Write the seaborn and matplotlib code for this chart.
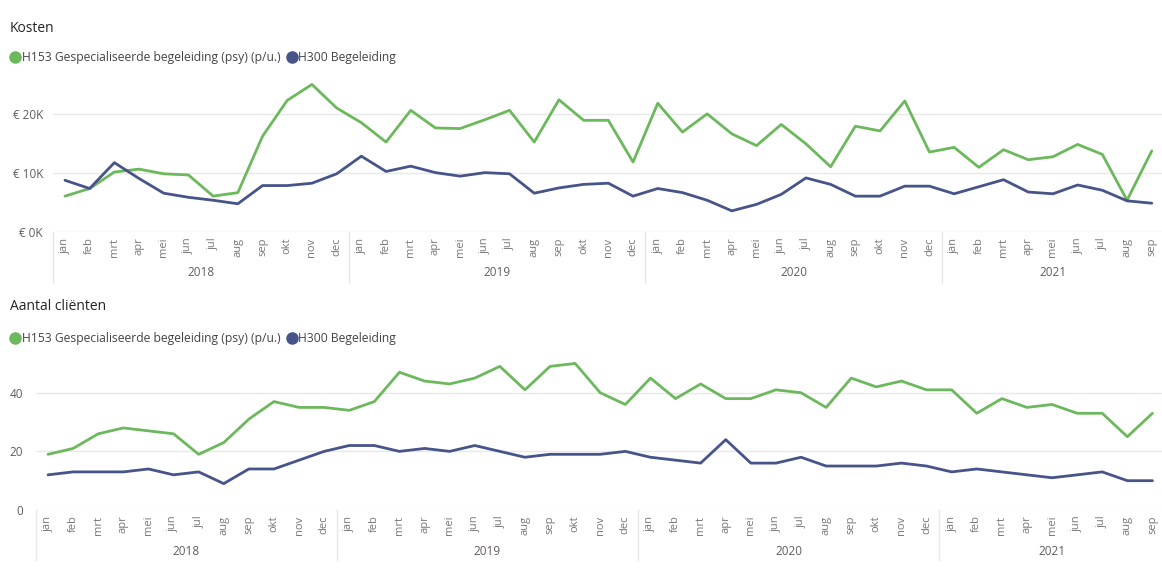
import numpy as np
import pandas as pd
import matplotlib
matplotlib.use("Agg")
import matplotlib.pyplot as plt
import matplotlib.transforms as mtransforms
from matplotlib.lines import Line2D
import seaborn as sns

# Data
month_names = ["jan", "feb", "mrt", "apr", "mei", "jun", "jul", "aug", "sep", "okt", "nov", "dec"]
years = ["2018", "2019", "2020", "2021"]
months_per_year = [12, 12, 12, 9]

series_names = ["H153 Gespecialiseerde begeleiding (psy) (p/u.)", "H300 Begeleiding"]

kosten_h153 = [6100, 7400, 10200, 10700, 9900, 9700, 6100, 6700, 16300, 22400, 25100, 21100,
               18600, 15300, 20700, 17700, 17600, 19100, 20700, 15300, 22500, 19000, 19000, 11900,
               21900, 17000, 20100, 16700, 14700, 18300, 15000, 11100, 18000, 17200, 22300, 13600,
               14400, 11000, 14000, 12300, 12800, 14900, 13200, 5400, 13800]
kosten_h300 = [8800, 7400, 11800, 9100, 6600, 5900, 5400, 4800, 7900, 7900, 8300, 9900,
               12900, 10300, 11200, 10100, 9500, 10100, 9900, 6600, 7500, 8100, 8300, 6100,
               7400, 6700, 5400, 3600, 4700, 6400, 9200, 8100, 6100, 6100, 7800, 7800,
               6500, 7700, 8900, 6800, 6500, 8000, 7100, 5300, 4900]

clienten_h153 = [19, 21, 26, 28, 27, 26, 19, 23, 31, 37, 35, 35,
                 34, 37, 47, 44, 43, 45, 49, 41, 49, 50, 40, 36,
                 45, 38, 43, 38, 38, 41, 40, 35, 45, 42, 44, 41,
                 41, 33, 38, 35, 36, 33, 33, 25, 33]
clienten_h300 = [12, 13, 13, 13, 14, 12, 13, 9, 14, 14, 17, 20,
                 22, 22, 20, 21, 20, 22, 20, 18, 19, 19, 19, 20,
                 18, 17, 16, 24, 16, 16, 18, 15, 15, 15, 16, 15,
                 13, 14, 13, 12, 11, 12, 13, 10, 10]

colors = ["#6CB85C", "#46548A"]
palette = dict(zip(series_names, colors))

month_labels = []
for n in months_per_year:
    month_labels += month_names[:n]
idx = np.arange(len(month_labels))

sns.set_theme(style="white")
plt.rcParams["font.family"] = ["Open Sans", "DejaVu Sans"]

W, H = 1162, 576
fig = plt.figure(figsize=(W / 100, H / 100), dpi=100)

grid_col = "#E8E8E8"
text_col = "#605E5C"
tick_col = "#777777"


def px_axes(left, top, width, bottom):
    return fig.add_axes([left / W, 1 - bottom / H, width / W, (bottom - top) / H])


def draw_panel(ax, v1, v2, ylim, yticks, fmt, title, title_y, legend_y, axis_bottom,
               sep_bottom, year_y, ypad):
    df = pd.DataFrame({
        "idx": np.concatenate([idx, idx]),
        "value": list(v1) + list(v2),
        "serie": [series_names[0]] * len(idx) + [series_names[1]] * len(idx),
    })
    sns.lineplot(data=df, x="idx", y="value", hue="serie", palette=palette,
                 linewidth=2, legend=False, ax=ax)
    ax.set_xlim(-0.5, 44.5)
    ax.set_ylim(*ylim)
    ax.set_yticks(yticks)
    ax.set_yticklabels([fmt(v) for v in yticks])
    ax.set_xticks(idx)
    ax.set_xticklabels(month_labels, rotation=90, va="top", ha="center")
    ax.tick_params(axis="x", length=0, pad=4, labelsize=8, labelcolor=tick_col)
    ax.tick_params(axis="y", length=0, pad=ypad, labelsize=8.5, labelcolor=text_col)
    ax.set_xlabel("")
    ax.set_ylabel("")
    for s in ax.spines.values():
        s.set_visible(False)
    ax.grid(axis="y", color=grid_col, linewidth=1)
    ax.grid(axis="x", visible=False)
    ax.set_axisbelow(True)

    # year separators and year labels below the month labels
    trans = mtransforms.blended_transform_factory(ax.transData, fig.transFigure)
    start = 0
    for yr, n in zip(years, months_per_year):
        x0 = start - 0.5
        ax.add_line(Line2D([x0, x0], [1 - axis_bottom / H, 1 - sep_bottom / H],
                           transform=trans, color=grid_col, linewidth=1, clip_on=False))
        ax.text(start + (n - 1) / 2, 1 - year_y / H, yr, transform=trans,
                ha="center", va="center", fontsize=8.5, color=text_col)
        start += n

    fig.text(10 / W, 1 - title_y / H, title, ha="left", va="center",
             fontsize=10, color="#252423")
    handles = [Line2D([], [], marker="o", linestyle="", markersize=8, color=c) for c in colors]
    fig.legend(handles, series_names, loc="center left",
               bbox_to_anchor=(10 / W, 1 - legend_y / H), ncol=2, frameon=False,
               fontsize=8.7, handlelength=0.9, handletextpad=0.1, columnspacing=0.45,
               borderaxespad=0, borderpad=0, labelcolor="#444444")


ax1 = px_axes(52.6, 78, 1111.5, 232)
draw_panel(ax1, kosten_h153, kosten_h300, (0, 26200), [0, 10000, 20000],
           lambda v: f"€ {v / 1000:.0f}K", "Kosten", 28, 58, 232, 283, 272.5, 7)

ax2 = px_axes(35.5, 357, 1129.5, 510)
draw_panel(ax2, clienten_h153, clienten_h300, (0, 52.2), [0, 20, 40],
           lambda v: f"{v:.0f}", "Aantal cliënten", 306.5, 338.5, 510, 560, 551.5, 9)

fig.savefig("out.png", dpi=100)
